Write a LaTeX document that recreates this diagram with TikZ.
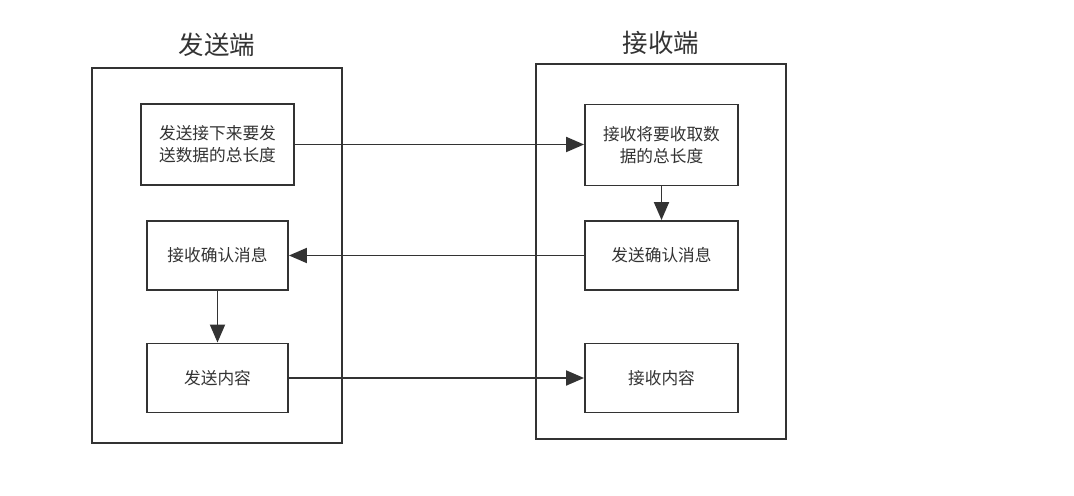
\documentclass[tikz,border=0pt]{standalone}
\usepackage{fontspec}
\setmainfont{Noto Sans CJK SC}
\usetikzlibrary{arrows.meta}
\definecolor{inkgray}{RGB}{51,51,51}

\begin{document}
\begin{tikzpicture}[x=0.02cm, y=-0.02cm, >={Triangle[length=0.36cm, width=0.3cm]},
    frame/.style={rectangle, draw=inkgray, line width=1.1pt, minimum width=5cm, minimum height=7.5cm},
    title/.style={font=\fontsize{14.5}{16}\selectfont, text=inkgray},
    box/.style={rectangle, draw=inkgray, line width=1.1pt, fill=white, align=center, text=inkgray,
        font=\fontsize{9.5}{12.5}\selectfont, minimum height=1.38cm},
    edge/.style={->, line width=1.1pt, draw=inkgray}]

\useasboundingbox (0,0) rectangle (1074,496);

\node [frame] (sender) at (217,255.5) {};
\node [frame] (receiver) at (661,251.5) {};
\node [title] (sendtitle) at (217,45) {发送端};
\node [title] (recvtitle) at (661,43) {接收端};

\node [box, minimum width=3.06cm, minimum height=1.62cm] (sendlen) at (217.5,144.5) {发送接下来要发\\送数据的总长度};
\node [box, minimum width=2.82cm] (recvack) at (217.5,255.5) {接收确认消息};
\node [box, minimum width=2.82cm] (sendbody) at (217.5,378) {发送内容};

\node [box, minimum width=3.06cm, minimum height=1.62cm] (recvlen) at (661.5,145) {接收将要收取数\\据的总长度};
\node [box, minimum width=3.06cm] (sendack) at (661.5,255.5) {发送确认消息};
\node [box, minimum width=3.06cm] (recvbody) at (661.5,378) {接收内容};

\draw [edge] (sendlen.east) -- (sendlen.east -| recvlen.west);
\draw [edge] (recvlen) -- (sendack);
\draw [edge] (sendack.west) -- (recvack.east);
\draw [edge] (recvack) -- (sendbody);
\draw [edge] (sendbody.east) -- (recvbody.west);

\end{tikzpicture}
\end{document}
